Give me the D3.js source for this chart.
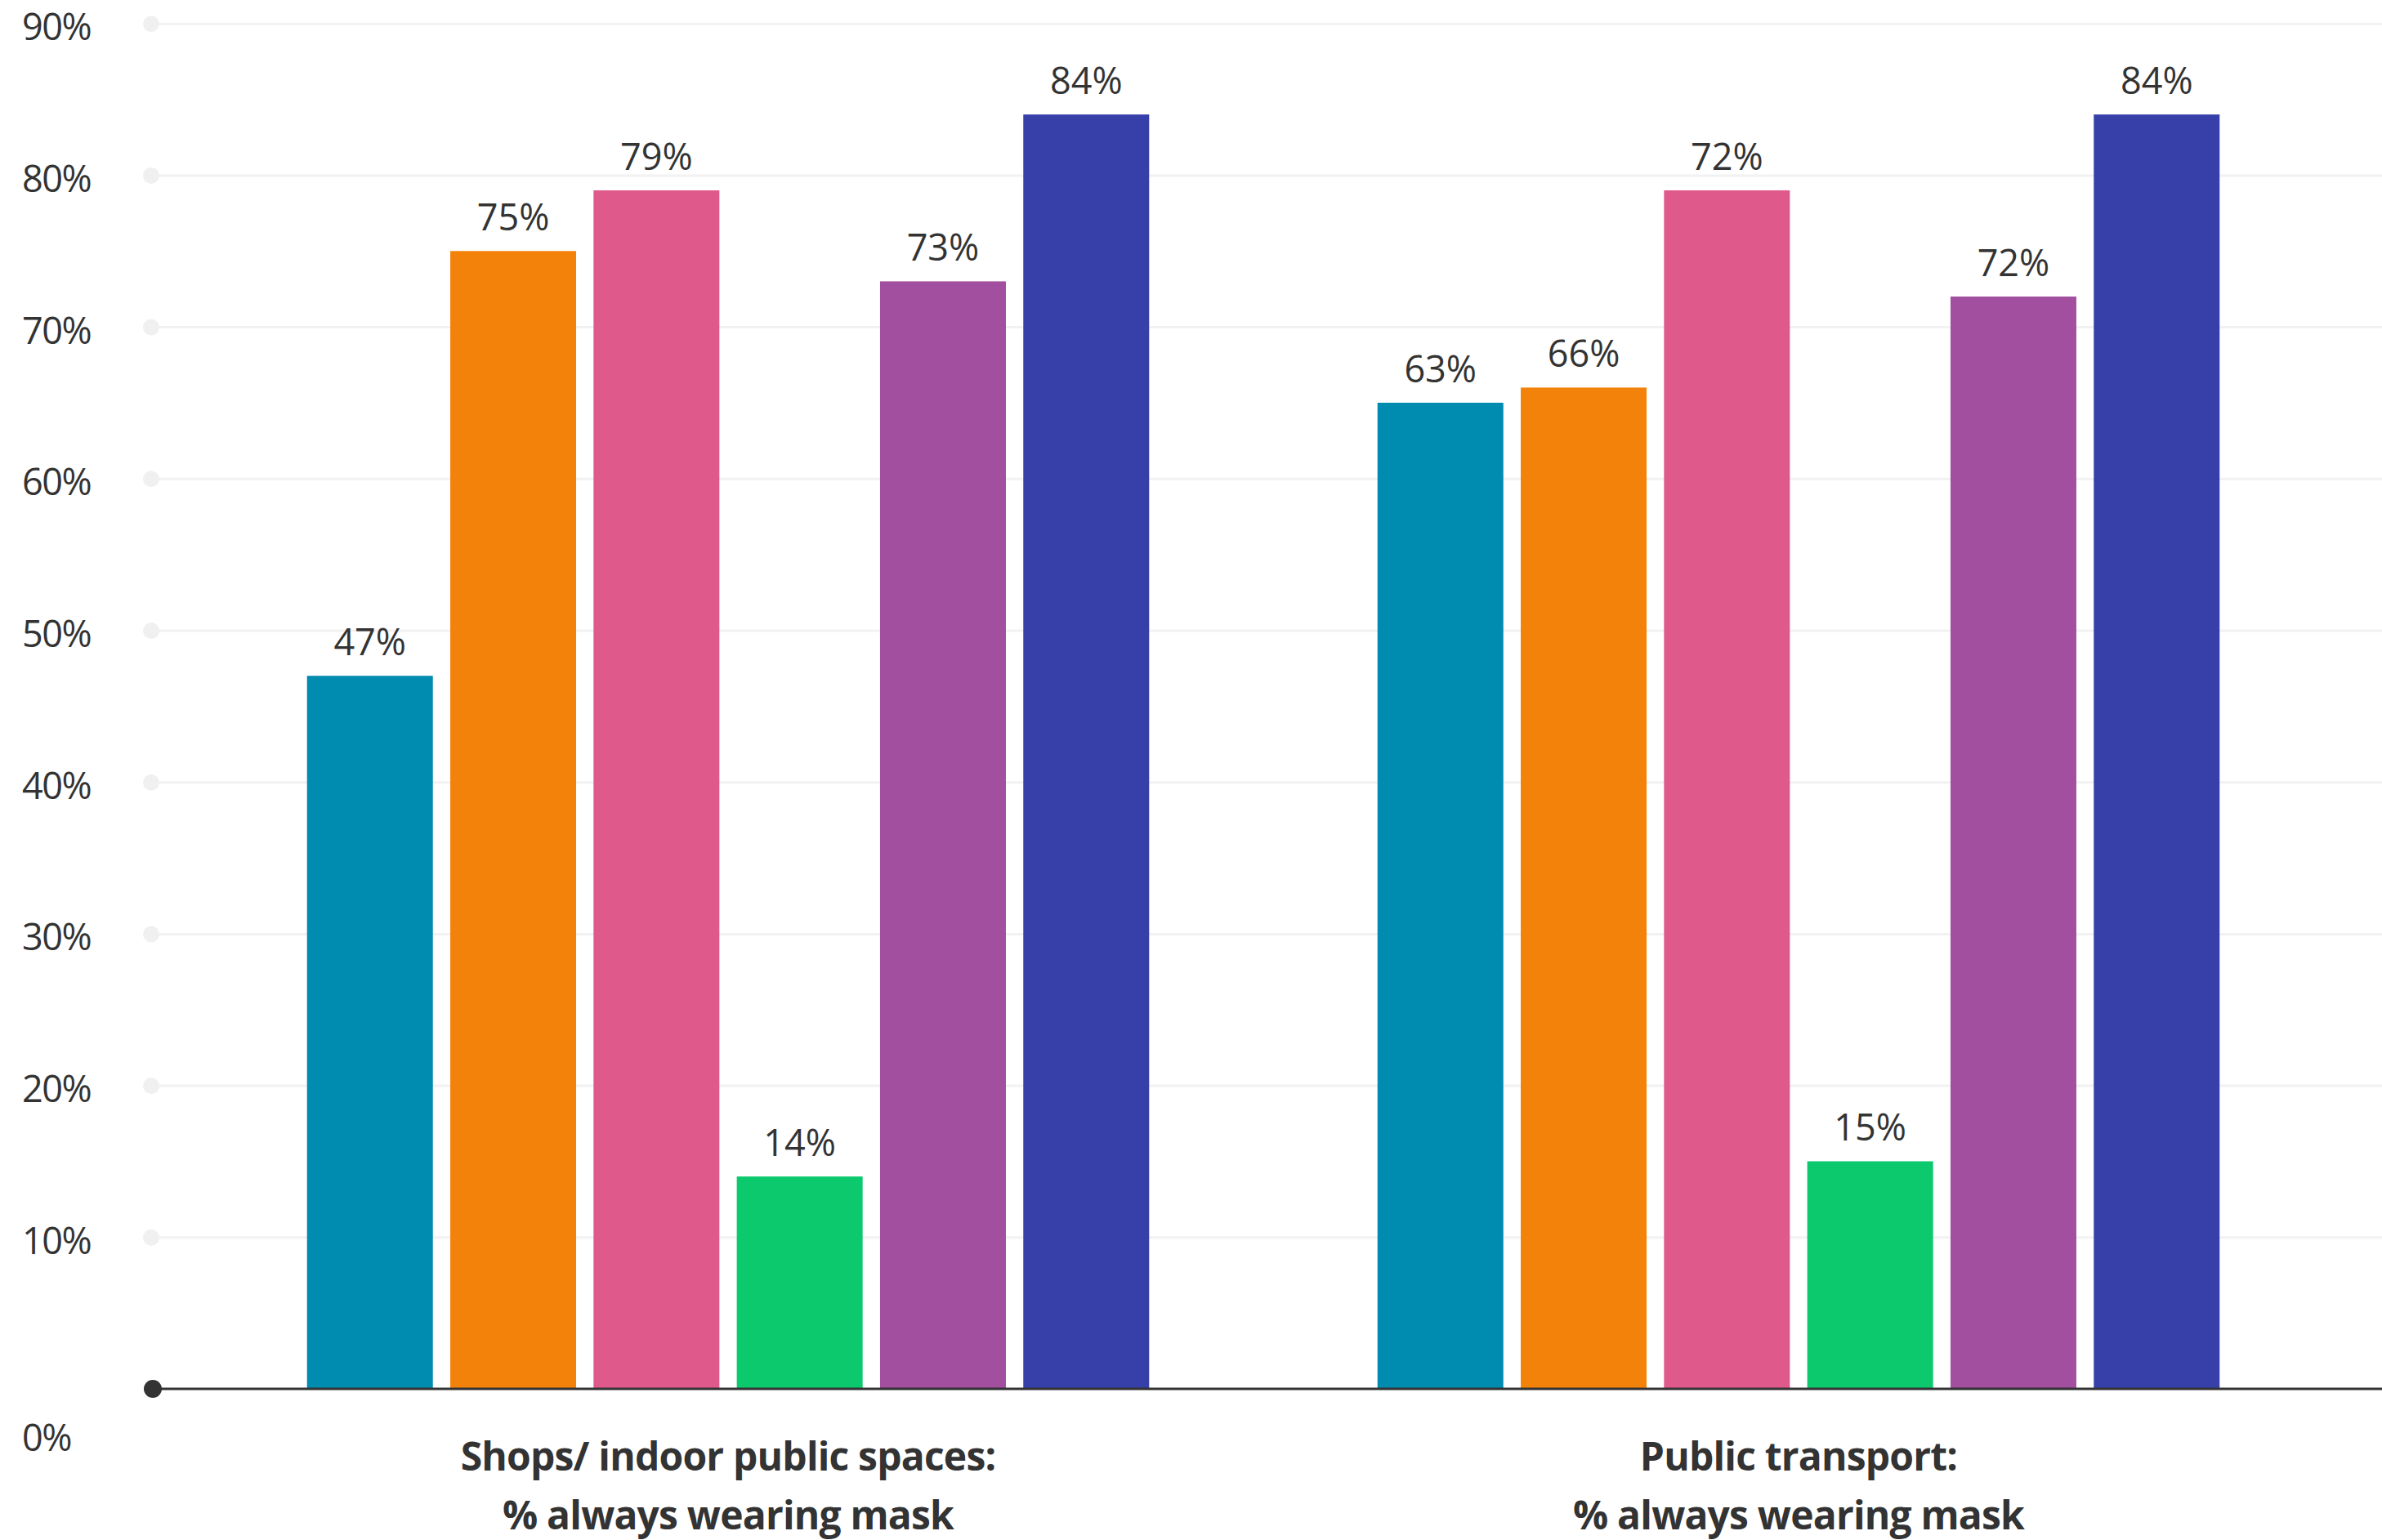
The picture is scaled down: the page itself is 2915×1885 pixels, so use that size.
<!DOCTYPE html>
<html>
<head>
<meta charset="utf-8">
<script src="https://cdn.jsdelivr.net/npm/d3@7"></script>
<style>
  body { margin: 0; background: #fff; }
  .tick-label { font-family: 'Open Sans', sans-serif; font-size: 45px; fill: #333; letter-spacing: -1.5px; }
  .bar-label { font-family: 'Open Sans', sans-serif; font-size: 45px; fill: #333; }
  .cat-label { font-family: 'Open Sans', sans-serif; font-weight: 700; font-size: 48px; fill: #333; letter-spacing: -0.8px; }
</style>
</head>
<body>
<div id="content"></div>
<script>
const categories = ['Shops/ indoor public spaces:', 'Public transport:'];
const categorySub = ['% always wearing mask', '% always wearing mask'];
const seriesColors = ['#008bb0', '#f3820b', '#e0598b', '#0dc96e', '#a24f9f', '#3640a8'];

// bar heights as drawn
const shopsValues = [47, 75, 79, 14, 73, 84];
const transportValues = [65, 66, 79, 15, 72, 84];
// printed labels (not always equal to the bar height)
const shopsLabels = ['47%', '75%', '79%', '14%', '73%', '84%'];
const transportLabels = ['63%', '66%', '72%', '15%', '72%', '84%'];

const yTicks = [0, 10, 20, 30, 40, 50, 60, 70, 80, 90];

var width = 2915;
var height = 1885;

var baseline = 1700;
var top10 = 185.7;
var gridLeft = 185;

var DATA = categories.map(function (c, i) {
    var vals = i === 0 ? shopsValues : transportValues;
    var labs = i === 0 ? shopsLabels : transportLabels;
    return {
        key: c,
        sub: categorySub[i],
        bars: vals.map(function (v, j) {return {index: j, value: v, label: labs[j]};})
    };
});

var svg = d3.select('#content')
.append('svg')
.attr('width', width)
.attr('height', height);

var yScale = d3.scaleLinear()
.domain([0, 90])
.range([baseline, baseline - 9 * top10]);

var x0 = d3.scaleBand()
.domain(categories)
.range([236, 2856])
.padding(0);

var x1 = d3.scaleBand()
.domain(d3.range(seriesColors.length))
.range([0, x0.bandwidth()])
.paddingInner(0.1215)
.paddingOuter(0.797);

// gridlines
var grid = d3.axisRight(yScale)
.tickValues(yTicks.filter(function (d) {return d > 0;}))
.tickSize(width - gridLeft)
.tickFormat('');

var gridG = svg.append('g')
.attr('class', 'grid')
.attr('transform', 'translate(' + gridLeft + ',0)')
.call(grid);
gridG.select('.domain').remove();
gridG.selectAll('.tick line')
.attr('stroke', '#f2f2f2')
.attr('stroke-width', 3);
gridG.selectAll('.tick')
.append('circle')
.attr('r', 10)
.attr('fill', '#f0f0f0');

// y labels
var yAxis = d3.axisLeft(yScale)
.tickValues(yTicks)
.tickSize(0)
.tickFormat(function (d) {return d + '%';});

var yG = svg.append('g')
.attr('class', 'y-axis')
.attr('transform', 'translate(27,0)')
.call(yAxis);
yG.select('.domain').remove();
yG.selectAll('.tick text')
.attr('class', 'tick-label')
.attr('text-anchor', 'start')
.attr('x', 0)
.attr('dy', null)
.attr('y', function (d) {return d === 0 ? 75 : 20;})
.attr('fill', null);
yG.attr('font-size', null).attr('font-family', null);

// bars
var groups = svg.selectAll('.group')
.data(DATA)
.enter()
.append('g')
.attr('class', 'group')
.attr('transform', function (d) {return 'translate(' + x0(d.key) + ',0)';});

groups.selectAll('rect')
.data(function (d) {return d.bars;})
.enter()
.append('rect')
.attr('class', 'bar')
.attr('x', function (b) {return x1(b.index);})
.attr('width', x1.bandwidth())
.attr('y', function (b) {return yScale(b.value);})
.attr('height', function (b) {return yScale(0) - yScale(b.value);})
.attr('fill', function (b) {return seriesColors[b.index];});

groups.selectAll('.bar-label')
.data(function (d) {return d.bars;})
.enter()
.append('text')
.attr('class', 'bar-label')
.attr('text-anchor', 'middle')
.attr('x', function (b) {return x1(b.index) + x1.bandwidth() / 2;})
.attr('y', function (b) {return yScale(b.value) - 25;})
.text(function (b) {return b.label;});

// baseline with dot
svg.append('line')
.attr('x1', gridLeft)
.attr('x2', width)
.attr('y1', yScale(0))
.attr('y2', yScale(0))
.attr('stroke', '#333')
.attr('stroke-width', 3);

svg.append('circle')
.attr('cx', gridLeft + 2)
.attr('cy', yScale(0))
.attr('r', 11)
.attr('fill', '#333');

// category labels
var xAxis = d3.axisBottom(x0).tickSize(0).tickFormat('');
var xG = svg.append('g')
.attr('class', 'x-axis')
.attr('transform', 'translate(0,' + yScale(0) + ')')
.call(xAxis);
xG.select('.domain').remove();

xG.selectAll('.tick')
.each(function (d, i) {
    var t = d3.select(this).append('text')
    .attr('class', 'cat-label')
    .attr('text-anchor', 'middle');
    t.append('tspan').attr('x', 0).attr('y', 100).text(categories[i]);
    t.append('tspan').attr('x', 0).attr('y', 172).text(categorySub[i]);
});
</script>
</body>
</html>
